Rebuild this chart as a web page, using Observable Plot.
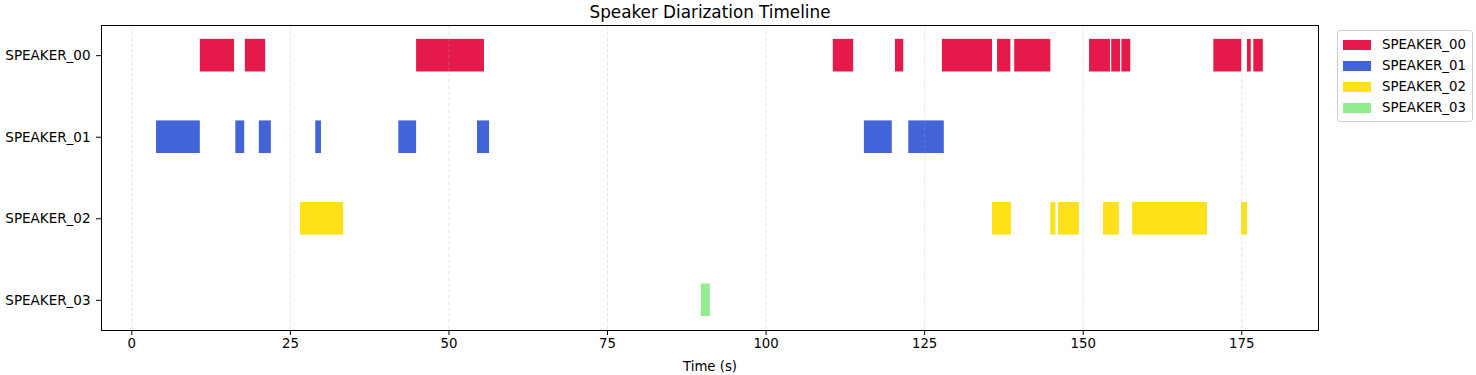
<!DOCTYPE html>
<html><head><meta charset="utf-8">
<script src="https://cdn.jsdelivr.net/npm/d3@7"></script>
<script src="https://cdn.jsdelivr.net/npm/@observablehq/plot@0.6"></script>
<style>
body{margin:0;background:#fff;font-family:"DejaVu Sans",sans-serif;}
#wrap{position:relative;width:1476px;height:375px;}
#legend{position:absolute;left:1337px;top:30px;width:136px;height:92px;border:1px solid #d0d0d0;border-radius:3px;box-sizing:border-box;background:#fff;}
.item{position:absolute;left:0;height:21px;width:134px;}
.sw{position:absolute;left:5px;width:28px;height:10px;}
.lab{position:absolute;left:44px;font-size:13.3px;line-height:14px;color:#000;white-space:nowrap;}
</style></head>
<body><div id="wrap"><div id="legend"></div></div>
<script>
const speakers = ["SPEAKER_00","SPEAKER_01","SPEAKER_02","SPEAKER_03"];
const colors = ["#E6194B","#4363D8","#FFE119","#90EE90"];
const xTicks = [0,25,50,75,100,125,150,175];
const seg00 = [[10.8,16.2],[17.9,21.1],[44.9,55.6],[110.6,113.8],[120.4,121.7],[127.8,135.7],[136.5,138.6],[139.2,144.9],[151.0,154.3],[154.5,155.9],[156.1,157.5],[170.6,175.0],[175.9,176.5],[176.9,178.4]];
const seg01 = [[3.9,10.8],[16.4,17.8],[20.1,22.0],[29.0,29.9],[42.1,44.9],[54.5,56.4],[115.5,119.9],[122.5,128.1]];
const seg02 = [[26.6,33.4],[135.7,138.7],[144.9,145.7],[146.1,149.4],[153.2,155.7],[157.8,169.6],[175.0,175.9]];
const seg03 = [[89.8,91.2]];

const rows = [];
[seg00, seg01, seg02, seg03].forEach((segs, i) =>
  segs.forEach(([s, e]) => rows.push({speaker: speakers[i], idx: i, start: s, end: e})));

const chart = Plot.plot({
  width: 1476, height: 375,
  marginTop: 25, marginBottom: 45, marginLeft: 101, marginRight: 158,
  style: {fontFamily: "DejaVu Sans, sans-serif", fontSize: "13.3px", background: "#fff", color: "#000"},
  x: {domain: [-4.78, 187.1]},
  y: {domain: [3.37, -0.37]},
  color: {domain: speakers, range: colors},
  marks: [
    Plot.rect(rows, {x1: "start", x2: "end", y1: d => d.idx - 0.2, y2: d => d.idx + 0.2, fill: "speaker"}),
    Plot.ruleX(xTicks, {stroke: "#b0b0b0", strokeOpacity: 0.3, strokeDasharray: "4,2", strokeWidth: 1}),
    Plot.frame({stroke: "#000", strokeWidth: 1}),
    Plot.axisX({ticks: xTicks, tickSize: 5, tickPadding: 3, label: null, fontSize: 13.3}),
    Plot.axisY({ticks: [0,1,2,3], tickFormat: i => speakers[i], tickSize: 5, tickPadding: 6, label: null, fontSize: 13.5}),
    Plot.text(["Time (s)"], {frameAnchor: "bottom", lineAnchor: "middle", dy: 36, fontSize: 13.3}),
    Plot.text(["Speaker Diarization Timeline"], {frameAnchor: "top", lineAnchor: "middle", dy: -13, fontSize: 16.8})
  ]
});
document.getElementById("wrap").prepend(chart);

const leg = document.getElementById("legend");
speakers.forEach((s, i) => {
  const it = document.createElement("div");
  it.className = "item";
  it.style.top = (3 + i * 21) + "px";
  const sw = document.createElement("div");
  sw.className = "sw";
  sw.style.top = "6px";
  sw.style.background = colors[i];
  const lb = document.createElement("div");
  lb.className = "lab";
  lb.style.top = "4px";
  lb.textContent = s;
  it.appendChild(sw); it.appendChild(lb);
  leg.appendChild(it);
});
</script></body></html>
